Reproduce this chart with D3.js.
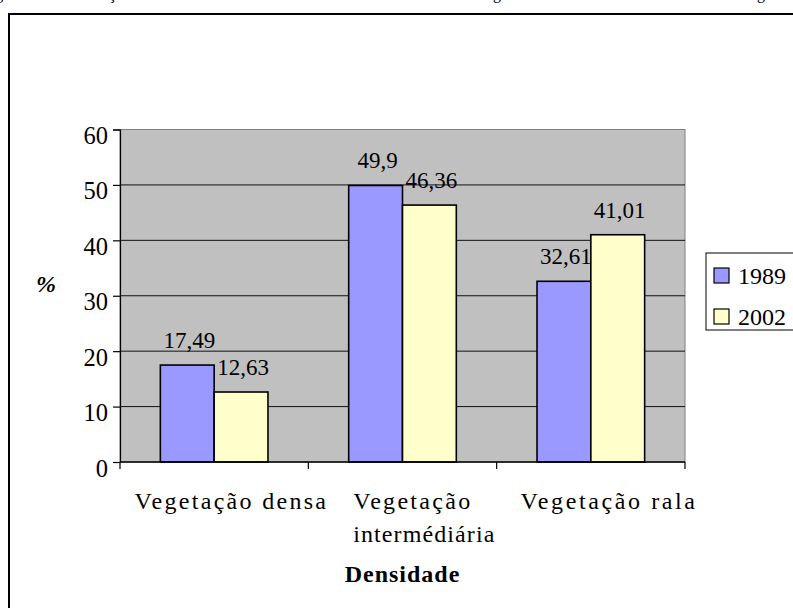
<!DOCTYPE html>
<html>
<head>
<meta charset="utf-8">
<script src="https://cdn.jsdelivr.net/npm/d3@7"></script>
<style>
  html, body { margin: 0; padding: 0; background: #fff; }
  svg { display: block; }
</style>
</head>
<body>
<svg id="chart" width="793" height="608"></svg>
<script>
// Vegetation density classes and their share (%) in each year
const categories = ["Vegetação densa", "Vegetação intermédiária", "Vegetação rala"];
const categoryLines = [["Vegetação densa"], ["Vegetação", "intermédiária"], ["Vegetação rala"]];
const years = ["1989", "2002"];
const values1989 = [17.49, 49.9, 32.61];
const values2002 = [12.63, 46.36, 41.01];
const valueLabels1989 = ["17,49", "49,9", "32,61"];
const valueLabels2002 = ["12,63", "46,36", "41,01"];
const yTicks = [0, 10, 20, 30, 40, 50, 60];
const yTitle = "%";
const xTitle = "Densidade";
const captionParts = [
  "Figura 1 – Distribuição das classes de densidade da cobertura",
  "vegetal em 1989 e 2002 na",
  "região"
];

const FONT = "\"Liberation Serif\", \"Times New Roman\", serif";
const colors = { "1989": "#9999FF", "2002": "#FFFFCC" };
const series = years.map((y, i) => ({
  year: y,
  values: i === 0 ? values1989 : values2002,
  labels: i === 0 ? valueLabels1989 : valueLabels2002
}));

const svg = d3.select("#chart").style("font-family", FONT);
const txt = (sel, size) => sel.style("font-family", FONT).style("font-size", size + "px").attr("fill", "#000");

// Caption line above the frame (only its descenders fall inside the page)
const cap = txt(svg.append("text").attr("y", -1.5), 16);
const capAnchors = [["ç", 112], ["g", 497], ["g", 761]];
captionParts.forEach((t, k) => {
  const [ch, at] = capAnchors[k];
  const probe = txt(svg.append("text"), 16).text(t);
  const idx = t.indexOf(ch);
  const node = probe.node();
  const before = node.getSubStringLength(0, idx);
  const cw = node.getSubStringLength(idx, 1);
  probe.remove();
  cap.append("tspan").attr("x", at - before - cw / 2).text(t);
});

// Outer chart frame
svg.append("rect")
  .attr("x", 9).attr("y", 14)
  .attr("width", 820).attr("height", 640)
  .attr("fill", "none").attr("stroke", "#000").attr("stroke-width", 2);

const plot = { left: 120, right: 685, top: 129.5, bottom: 462 };

const x = d3.scaleBand().domain(categories).range([plot.left, plot.right]).paddingInner(0).paddingOuter(0);
const xs = d3.scaleBand().domain(years).range([0, x.bandwidth()]).paddingInner(0).paddingOuter(0.75);
const y = d3.scaleLinear().domain([0, 60]).range([plot.bottom, plot.top]);

// Plot area background
svg.append("rect")
  .attr("x", plot.left).attr("y", plot.top)
  .attr("width", plot.right - plot.left).attr("height", plot.bottom - plot.top)
  .attr("fill", "#C0C0C0").attr("stroke", "#808080").attr("stroke-width", 1);

// Horizontal gridlines
svg.append("g").selectAll("line")
  .data(yTicks.filter(t => t > 0 && t < 60))
  .join("line")
  .attr("x1", plot.left).attr("x2", plot.right)
  .attr("y1", d => y(d)).attr("y2", d => y(d))
  .attr("stroke", "#111").attr("stroke-width", 1);

// Bars
const groups = svg.append("g").selectAll("g")
  .data(series)
  .join("g");

groups.selectAll("rect")
  .data(s => s.values.map((v, i) => ({ year: s.year, cat: categories[i], v })))
  .join("rect")
  .attr("x", d => x(d.cat) + xs(d.year))
  .attr("y", d => y(d.v))
  .attr("width", xs.bandwidth())
  .attr("height", d => y(0) - y(d.v))
  .attr("fill", d => colors[d.year])
  .attr("stroke", "#000").attr("stroke-width", 1.6);

// Value labels above bars
txt(groups.selectAll("text")
  .data(s => s.values.map((v, i) => ({ year: s.year, cat: categories[i], v, label: s.labels[i] })))
  .join("text"), 23)
  .attr("x", d => x(d.cat) + xs(d.year) + xs.bandwidth() / 2 + 2)
  .attr("y", d => y(d.v) - 17)
  .attr("text-anchor", "middle")
  .text(d => d.label);

// Y axis
const yAxis = d3.axisLeft(y).tickValues(yTicks).tickSize(7).tickPadding(5).tickFormat(d3.format("d"));
const gy = svg.append("g").attr("transform", `translate(${plot.left},0)`).call(yAxis)
  .attr("font-family", null).attr("font-size", null);
gy.select(".domain").attr("stroke", "#000").attr("stroke-width", 1.2);
gy.selectAll(".tick line").attr("stroke", "#000").attr("stroke-width", 1.2);
txt(gy.selectAll(".tick text"), 24.5).attr("dy", 0).attr("y", 14);

// X axis line with category boundary ticks
svg.append("line")
  .attr("x1", plot.left).attr("x2", plot.right)
  .attr("y1", plot.bottom).attr("y2", plot.bottom)
  .attr("stroke", "#000").attr("stroke-width", 1.4);
const bounds = categories.map(c => x(c)).concat([x(categories[categories.length - 1]) + x.bandwidth()]);
svg.append("g").selectAll("line")
  .data(bounds)
  .join("line")
  .attr("x1", d => d).attr("x2", d => d)
  .attr("y1", plot.bottom).attr("y2", plot.bottom + 7)
  .attr("stroke", "#000").attr("stroke-width", 1.2);

// Category labels (laid out at natural width, drawn with wider letter spacing)
categoryLines.forEach((lines, i) => {
  const cx = x(categories[i]) + x.bandwidth() / 2;
  const probe = txt(svg.append("text"), 24).text(lines[0]);
  const w = probe.node().getComputedTextLength();
  probe.remove();
  const sx = cx - w / 2;
  lines.forEach((ln, j) => {
    txt(svg.append("text"), 24)
      .attr("x", sx).attr("y", 509 + j * 32.5)
      .style("letter-spacing", j === 0 ? (i === 2 ? "2.6px" : "2.3px") : "1.1px")
      .text(ln);
  });
});

// Axis titles
txt(svg.append("text"), 24)
  .attr("x", (plot.left + plot.right) / 2).attr("y", 582)
  .attr("text-anchor", "middle")
  .style("font-weight", "bold")
  .style("letter-spacing", "1px")
  .text(xTitle);

txt(svg.append("text"), 24)
  .attr("x", 46).attr("y", 292)
  .attr("text-anchor", "middle")
  .style("font-weight", "bold").style("font-style", "italic")
  .text(yTitle);

// Legend
const legend = svg.append("g");
legend.append("rect")
  .attr("x", 706).attr("y", 253).attr("width", 120).attr("height", 77)
  .attr("fill", "#fff").attr("stroke", "#000").attr("stroke-width", 1);
const li = legend.selectAll("g.item").data(years).join("g").attr("class", "item")
  .attr("transform", (d, i) => `translate(714, ${268 + i * 41})`);
li.append("rect")
  .attr("width", 15).attr("height", 15)
  .attr("fill", d => colors[d]).attr("stroke", "#000").attr("stroke-width", 1.2);
txt(li.append("text"), 24)
  .attr("x", 24).attr("y", 16)
  .text(d => d);
</script>
</body>
</html>
